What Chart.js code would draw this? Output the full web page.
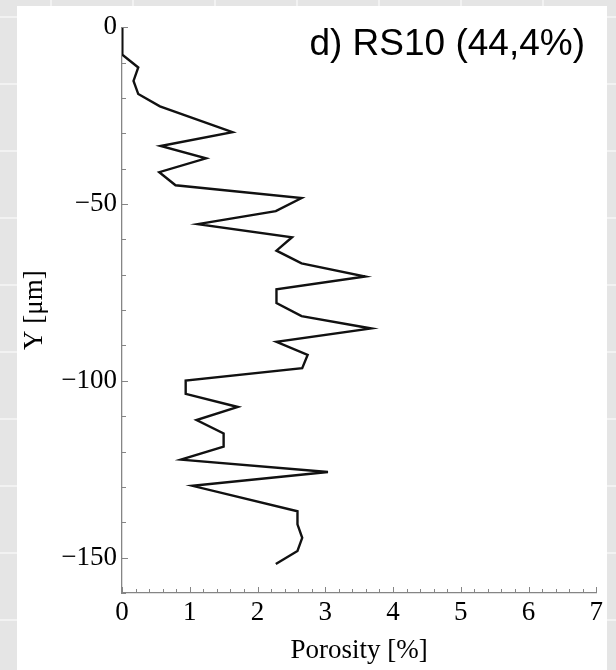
<!DOCTYPE html>
<html>
<head>
<meta charset="utf-8">
<script src="https://cdn.jsdelivr.net/npm/chart.js@4/dist/chart.umd.min.js"></script>
<style>
    html, body {
        margin: 0;
        padding: 0;
    }
    body {
        width: 616px;
        height: 670px;
        overflow: hidden;
        position: relative;
        background-color: #e5e5e5;
        background-image:
            linear-gradient(to bottom, #f2f2f2 2px, transparent 2px),
            linear-gradient(to right, #f2f2f2 2px, transparent 2px);
        background-size: 100% 67px, 82px 100%;
        background-position: 0 16px, 50px 0;
    }
    #panel {
        position: absolute;
        left: 17px;
        top: 6px;
        width: 590px;
        height: 664px;
        background: #ffffff;
    }
    #chart {
        display: block;
    }
</style>
</head>
<body>
<div id="panel">
    <canvas id="chart" width="590" height="664"></canvas>
</div>

<script>
// =============================================
// Data
// =============================================

// depth Y [µm]
var depthValues = [
    0, -3.7, -7.8, -11.4, -15.2, -18.9, -22.4, -29.7, -33.6, -37.1,
    -41.0, -44.7, -48.3, -52.0, -55.7, -59.4, -63.2, -66.8, -70.5, -74.1,
    -78.0, -81.7, -85.2, -89.0, -92.7, -96.4, -99.9, -103.7, -107.4, -111.1,
    -114.9, -118.6, -122.3, -125.8, -129.7, -136.9, -140.6, -144.4, -148.1, -151.8
];

// porosity [%]
var porosityValues = [
    0, 0, 0.01, 0.24, 0.17, 0.24, 0.56, 1.63, 0.57, 1.24,
    0.55, 0.79, 2.65, 2.27, 1.12, 2.51, 2.28, 2.65, 3.59, 2.28,
    2.28, 2.65, 3.68, 2.28, 2.74, 2.66, 0.94, 0.94, 1.71, 1.10,
    1.50, 1.50, 0.87, 3.04, 1.04, 2.59, 2.59, 2.66, 2.59, 2.27
];

var xTickValues = [0, 1, 2, 3, 4, 5, 6, 7];
var yTickValues = [0, -50, -100, -150];
var xMinorStep = 0.2;
var yMinorStep = 10;

var panelTitle = "d) RS10 (44,4%)";
var xTitle = "Porosity [%]";
var yTitle = "Y [\u03bcm]";

var axisColor = "#858585";

// =============================================
// Build points
// =============================================

var points = [];
for (var i = 0; i < depthValues.length; i++) {
    points.push({ x: porosityValues[i], y: depthValues[i] });
}

function minusLabel(v) {
    if (v < 0) return "\u2212" + Math.abs(v);
    return "" + v;
}

// inward tick marks (major + minor) and the panel label
var innerTicksPlugin = {
    id: "innerTicks",
    afterDraw: function(chart) {
        var ctx = chart.ctx;
        var xs = chart.scales.x;
        var ys = chart.scales.y;
        var area = chart.chartArea;
        ctx.save();
        ctx.strokeStyle = axisColor;
        ctx.lineWidth = 1;
        ctx.beginPath();
        var v, p, len;
        for (v = 0; v <= 7.0001; v += xMinorStep) {
            p = Math.round(xs.getPixelForValue(v)) + 0.5;
            len = Math.abs(v - Math.round(v)) < 0.001 ? 6 : 4;
            ctx.moveTo(p, area.bottom);
            ctx.lineTo(p, area.bottom - len);
        }
        for (v = 0; v >= -160; v -= yMinorStep) {
            p = Math.round(ys.getPixelForValue(v)) + 0.5;
            len = v % 50 === 0 ? 6 : 4;
            ctx.moveTo(area.left, p);
            ctx.lineTo(area.left + len, p);
        }
        ctx.stroke();

        ctx.fillStyle = "#000000";
        ctx.font = "37px 'Liberation Sans', Arial, sans-serif";
        ctx.textAlign = "right";
        ctx.textBaseline = "alphabetic";
        ctx.fillText(panelTitle, 568, 49);
        ctx.restore();
    }
};

var ctx = document.getElementById("chart");

var chart = new Chart(ctx, {
    type: "scatter",
    data: {
        datasets: [{
            data: points,
            showLine: true,
            borderColor: "#111111",
            borderWidth: 2.4,
            pointRadius: 0,
            pointHoverRadius: 0,
            tension: 0,
            fill: false
        }]
    },
    options: {
        responsive: false,
        animation: false,
        layout: {
            padding: { top: 15, right: 8, left: 0, bottom: 0 }
        },
        plugins: {
            legend: { display: false },
            tooltip: { enabled: false },
            title: { display: false }
        },
        scales: {
            x: {
                type: "linear",
                min: 0,
                max: 7,
                grid: { display: false, drawTicks: false, tickLength: 0 },
                border: { display: true, color: axisColor, width: 1.3 },
                afterBuildTicks: function(scale) {
                    scale.ticks = xTickValues.map(function(v) { return { value: v }; });
                },
                afterFit: function(scale) {
                    scale.height = 77;
                },
                ticks: {
                    color: "#000000",
                    padding: 4,
                    maxRotation: 0,
                    font: { family: "'Liberation Serif', serif", size: 27 },
                    callback: function(v) { return minusLabel(v); }
                },
                title: {
                    display: true,
                    text: xTitle,
                    color: "#000000",
                    padding: { top: 0, bottom: 3 },
                    font: { family: "'Liberation Serif', serif", size: 27 }
                }
            },
            y: {
                type: "linear",
                min: -160,
                max: 0,
                grid: { display: false, drawTicks: false, tickLength: 0 },
                border: { display: true, color: axisColor, width: 1.3 },
                afterBuildTicks: function(scale) {
                    scale.ticks = yTickValues.map(function(v) { return { value: v }; });
                },
                afterFit: function(scale) {
                    scale.width = 105;
                },
                ticks: {
                    color: "#000000",
                    padding: 5,
                    font: { family: "'Liberation Serif', serif", size: 27 },
                    callback: function(v) { return minusLabel(v); }
                },
                title: {
                    display: true,
                    text: yTitle,
                    color: "#000000",
                    padding: { top: 2, bottom: 0 },
                    font: { family: "'Liberation Serif', serif", size: 27 }
                }
            }
        }
    },
    plugins: [innerTicksPlugin]
});
</script>
</body>
</html>
